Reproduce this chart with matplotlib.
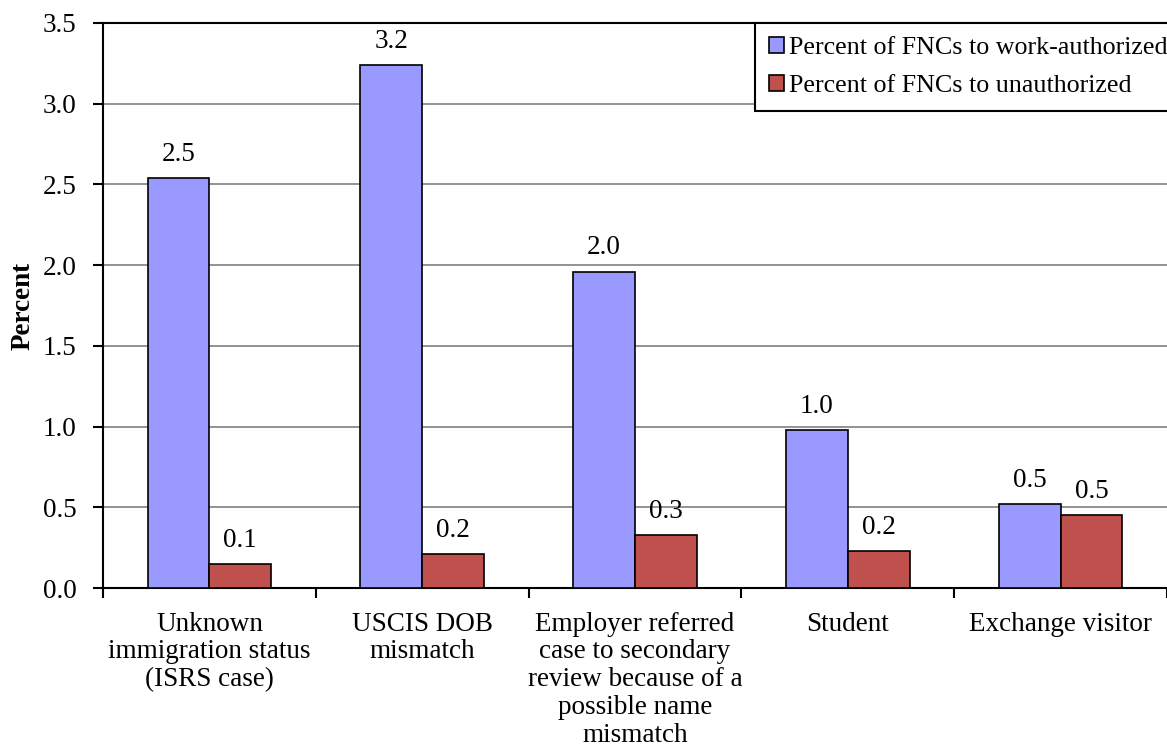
import matplotlib
matplotlib.use("Agg")
import matplotlib.pyplot as plt
import numpy as np

categories = ["Unknown\nimmigration status\n(ISRS case)", "USCIS DOB\nmismatch",
              "Employer referred\ncase to secondary\nreview because of a\npossible name\nmismatch",
              "Student", "Exchange visitor"]
work_auth = [2.54, 3.24, 1.96, 0.98, 0.52]
unauth = [0.15, 0.21, 0.33, 0.23, 0.45]
series_names = ["Percent of FNCs to work-authorized", "Percent of FNCs to unauthorized"]
yticks = [0.0, 0.5, 1.0, 1.5, 2.0, 2.5, 3.0, 3.5]

plt.rcParams['font.family'] = ['Liberation Serif', 'DejaVu Serif']
fs = 19.5

fig = plt.figure(figsize=(11.67, 7.51), dpi=100)
ax = fig.add_axes([103/1167, 1-588/751, 1-103/1167, (588-23)/751])

x = np.arange(len(categories))
w = 0.29
b1 = ax.bar(x - w/2, work_auth, w, color="#9999FF", edgecolor="black", linewidth=1.2, label=series_names[0], zorder=3)
b2 = ax.bar(x + w/2, unauth, w, color="#C0504D", edgecolor="black", linewidth=1.2, label=series_names[1], zorder=3)

for bars, vals in ((b1, work_auth), (b2, unauth)):
    for r, v in zip(bars, vals):
        ax.annotate(f"{v:.1f}", (r.get_x() + r.get_width()/2, v), xytext=(0, 8),
                    textcoords="offset points", ha="center", va="bottom", fontsize=fs)

ax.set_xlim(-0.5, len(categories) - 0.5)
ax.set_ylim(0, 3.5)
ax.set_yticks(yticks)
ax.set_yticklabels([f"{t:.1f}" for t in yticks], fontsize=fs)
ax.yaxis.grid(True, color="#808080", linewidth=1.2, zorder=0)
ax.set_axisbelow(True)
ax.set_xticks(x)
ax.set_xticklabels(categories, fontsize=fs, linespacing=1.15)
ax.tick_params(axis='x', which='major', length=0, pad=17)
ax.set_xticks(np.arange(len(categories) + 1) - 0.5, minor=True)
ax.tick_params(axis='x', which='minor', length=7, width=1.5, direction='out')
ax.tick_params(axis='y', length=7, width=1.5, direction='out', pad=12)
ax.spines["right"].set_visible(False)
ax.spines["top"].set_linewidth(1.5)
ax.spines["left"].set_linewidth(1.5)
ax.spines["bottom"].set_linewidth(1.5)
ax.set_ylabel("Percent", fontsize=fs, fontweight="bold", labelpad=5)

leg = fig.legend(loc="upper left", bbox_to_anchor=(755/1167, 1-23/751), fontsize=18.7,
                 frameon=True, fancybox=False, edgecolor="black", handlelength=0.55,
                 handleheight=0.55, handletextpad=0.2, borderpad=0.55, labelspacing=0.6,
                 borderaxespad=0)
leg.get_frame().set_linewidth(1.5)
leg.get_frame().set_alpha(1)

fig.savefig("out.png", dpi=100)
